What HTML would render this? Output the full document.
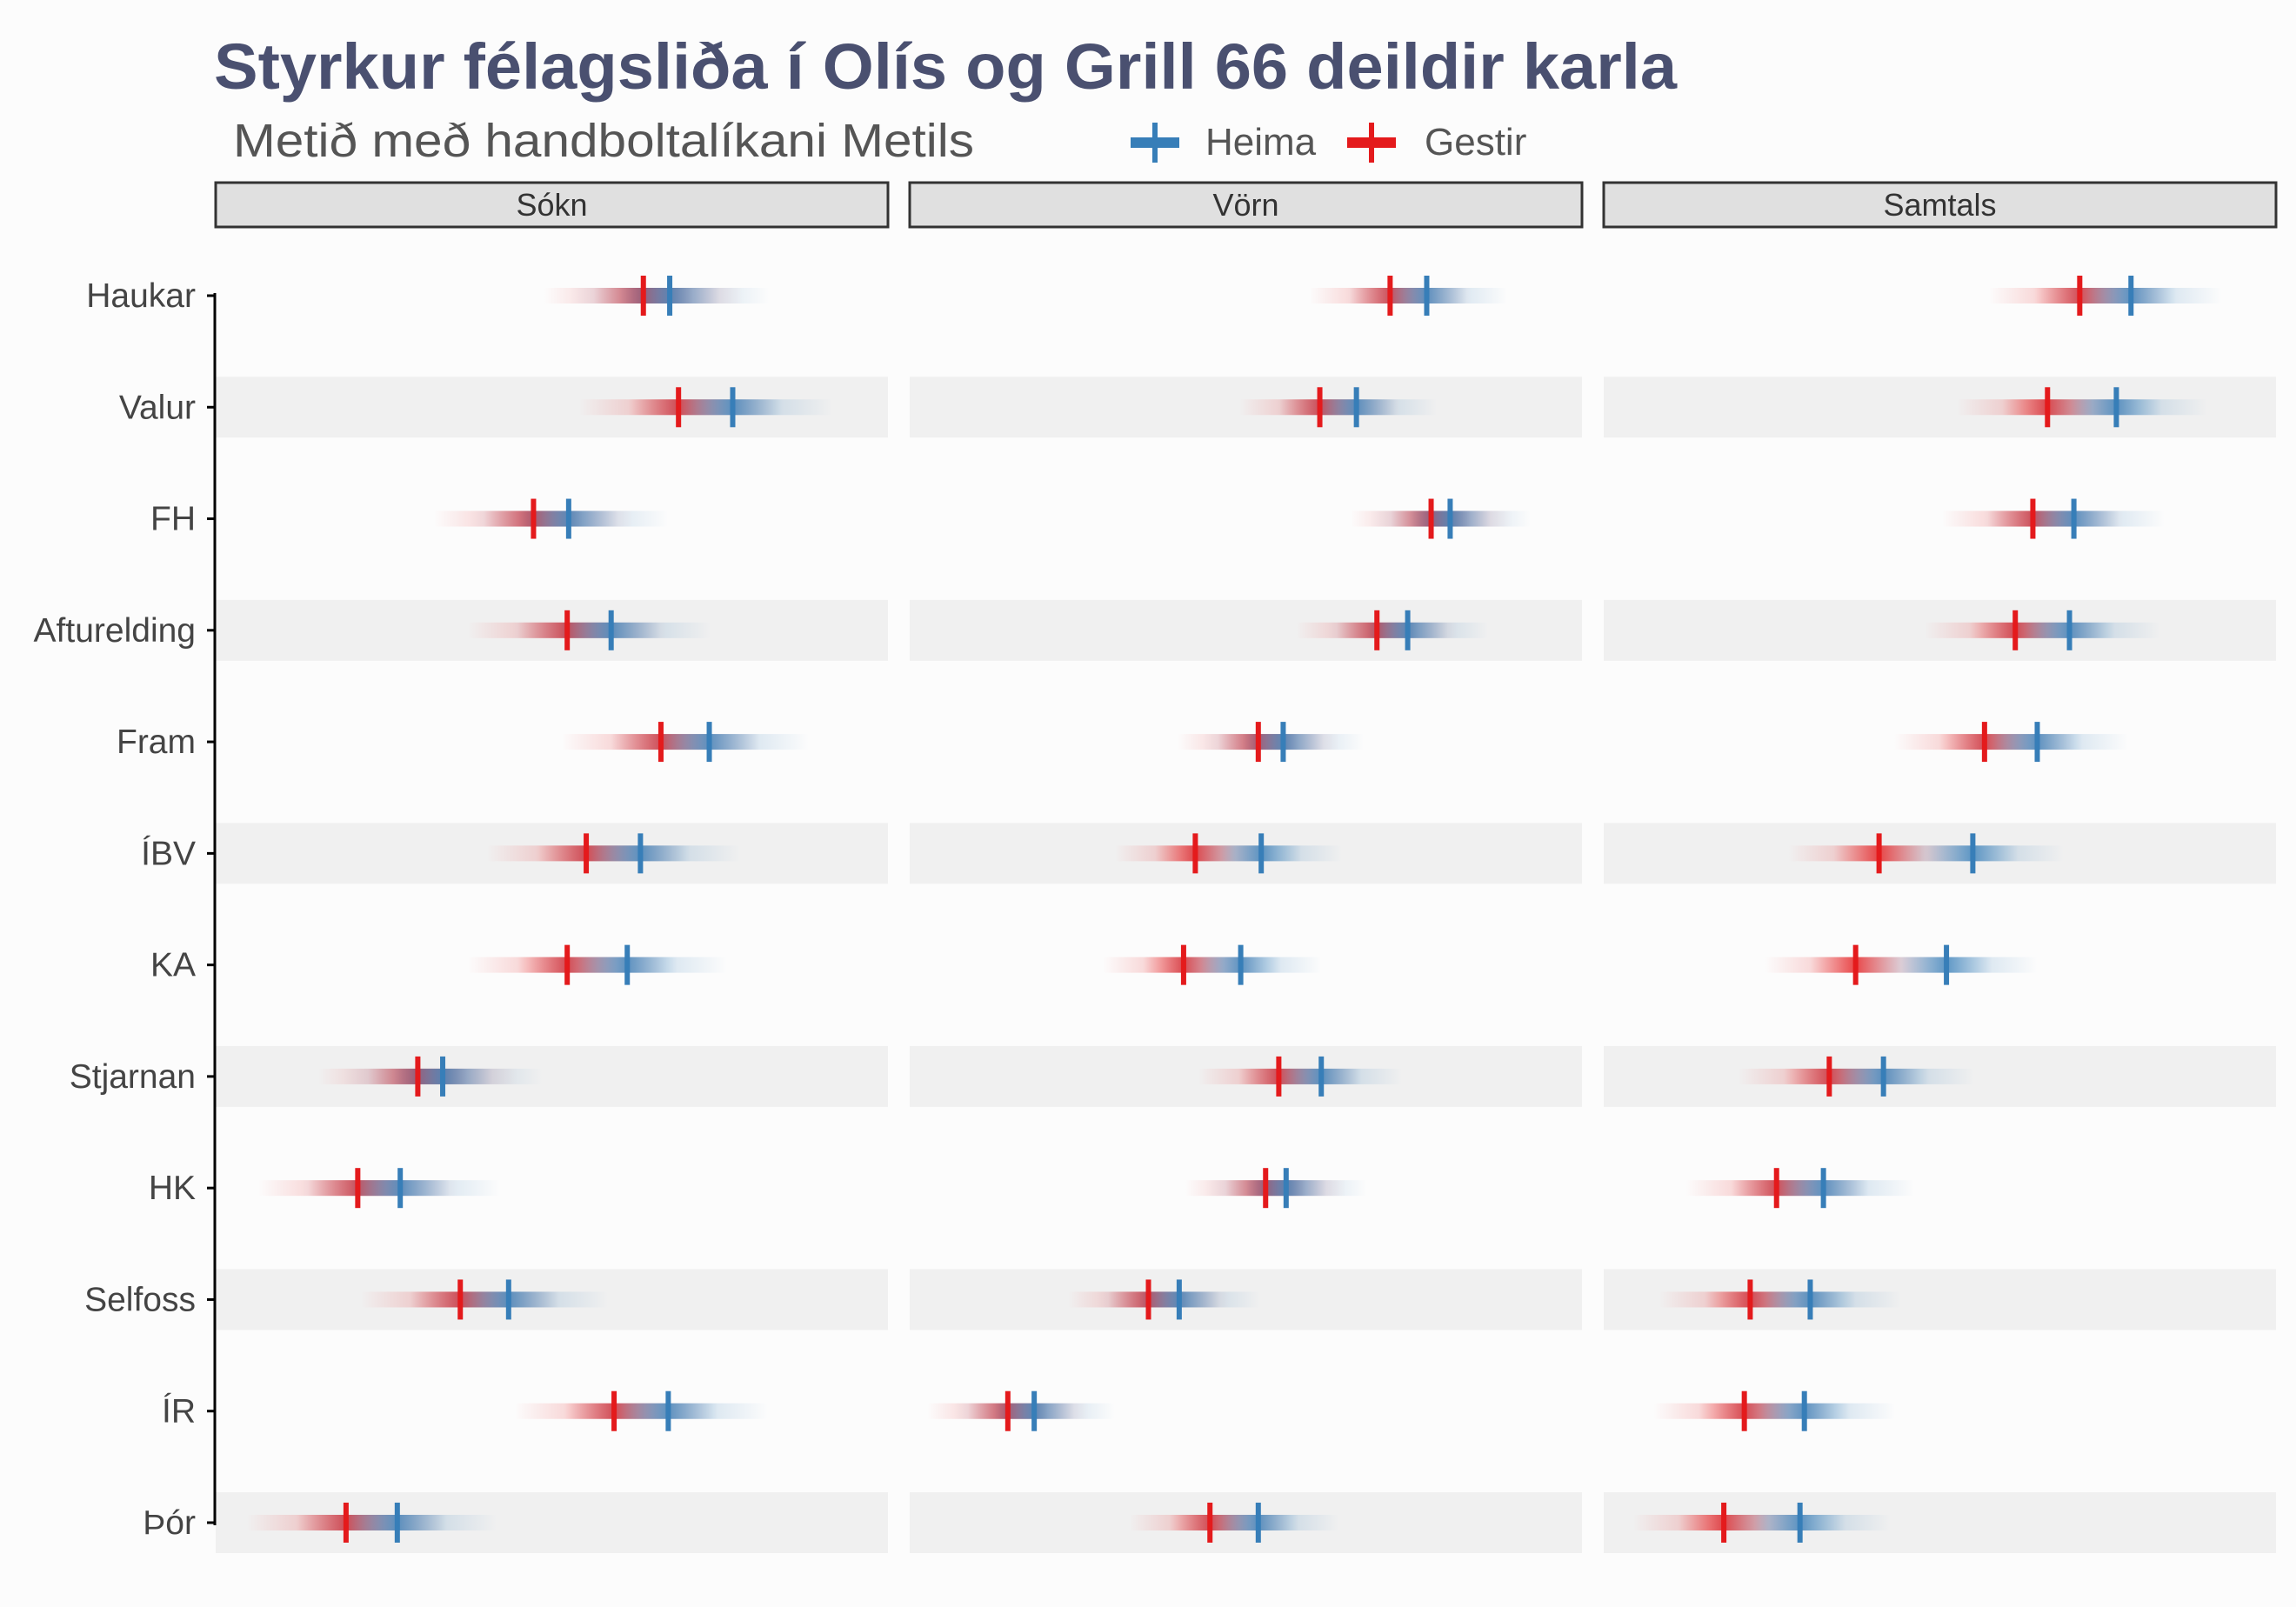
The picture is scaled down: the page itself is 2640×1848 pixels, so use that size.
<!DOCTYPE html>
<html><head><meta charset="utf-8"><style>
html,body{margin:0;padding:0;background:#fcfcfc;}
svg{display:block;font-family:"Liberation Sans",sans-serif;}
</style></head><body>
<svg id="chart" width="2640" height="1848" viewBox="0 0 2640 1848" xmlns="http://www.w3.org/2000/svg">
<rect width="2640" height="1848" fill="#fcfcfc"/>
<text x="246" y="102" font-size="74" font-weight="bold" fill="#4a5070" textLength="1682" lengthAdjust="spacingAndGlyphs">Styrkur félagsliða í Olís og Grill 66 deildir karla</text>
<text x="268" y="180" font-size="54" fill="#555" textLength="852" lengthAdjust="spacingAndGlyphs">Metið með handboltalíkani Metils</text>
<g>
<g><rect x="1300" y="158" width="56" height="12" fill="#377EB8"/><rect x="1325" y="141" width="6" height="46" fill="#377EB8"/><text x="1386" y="178" font-size="44" fill="#555">Heima</text></g>
<g><rect x="1549" y="158" width="56" height="12" fill="#E41A1C"/><rect x="1574" y="141" width="6" height="46" fill="#E41A1C"/><text x="1638" y="178" font-size="44" fill="#555">Gestir</text></g>
</g>
<g id="plot"></g>
</svg>
<script>
const teams = ["Haukar","Valur","FH","Afturelding","Fram","ÍBV","KA","Stjarnan","HK","Selfoss","ÍR","Þór"];
const panels = ["Sókn","Vörn","Samtals"];
const soknGestir = [292,316,217,240,304,253,240,138,97,167,272,89];
const soknHeima  = [310,353,241,270,337,290,281,155,126,200,309,124];
const vornGestir = [328,280,356,319,238,195,187,252,243,163,67,205];
const vornHeima  = [353,305,369,340,255,240,226,281,257,184,85,238];
const samtGestir = [325,303,293,281,260,188,172,154,118,100,96,82];
const samtHeima  = [360,350,321,318,296,252,234,191,150,141,137,134];
const spread = [68,55,62];
const domain = [0,459];

const NS="http://www.w3.org/2000/svg";
const svg=document.getElementById('chart');
const plot=document.getElementById('plot');
function mk(tag,attrs,parent){const e=document.createElementNS(NS,tag);for(const k in attrs)e.setAttribute(k,attrs[k]);(parent||plot).appendChild(e);return e;}
const panelX=[248,1046,1844], panelW=773;
const rowY0=340, rowStep=(1751-340)/11;
function yOf(i){return rowY0+i*rowStep;}
function xScale(p,v){return panelX[p]+(v-domain[0])/(domain[1]-domain[0])*panelW;}
const defs=mk('defs',{},svg);
function grad(id,color){
  const g=mk('linearGradient',{id:id,x1:'0',x2:'1',y1:'0',y2:'0'},defs);
  [[0,0],[0.25,0.15],[0.5,0.8],[0.75,0.15],[1,0]].forEach(s=>mk('stop',{offset:s[0],'stop-color':color,'stop-opacity':s[1]},g));
}
grad('gR','#E41A1C');grad('gB','#377EB8');
const data=[[soknGestir,soknHeima],[vornGestir,vornHeima],[samtGestir,samtHeima]];
for(let p=0;p<3;p++){
  const s=mk('rect',{x:panelX[p],y:210,width:panelW,height:51,fill:'#e0e0e0',stroke:'#333','stroke-width':3});
  
  
  const t=mk('text',{x:panelX[p]+panelW/2,y:248,'font-size':36,fill:'#333','text-anchor':'middle'});
  t.textContent=panels[p];
  
  
  for(let i=0;i<teams.length;i++){
    if(i%2===1){const b=mk('rect',{x:panelX[p],y:yOf(i)-35,width:panelW,height:70,fill:'#f0f0f0'});
      
      }
  }
}
for(let p=0;p<3;p++){
  const sp=spread[p]/(domain[1]-domain[0])*panelW;
  for(let i=0;i<teams.length;i++){
    const y=yOf(i);
    const xr=xScale(p,data[p][0][i]), xb=xScale(p,data[p][1][i]);
    const r=mk('rect',{x:xr-sp,y:y-9,width:2*sp,height:18,fill:'url(#gR)'});
    
    
    const b=mk('rect',{x:xb-sp,y:y-9,width:2*sp,height:18,fill:'url(#gB)'});
    
    
    const tr=mk('rect',{x:xr-3,y:y-23,width:6,height:46,fill:'#E41A1C'});
    
    
    const tb=mk('rect',{x:xb-3,y:y-23,width:6,height:46,fill:'#377EB8'});
    
    
  }
}
const ax=mk('line',{x1:247,x2:247,y1:yOf(0)-3,y2:yOf(11)+3,stroke:'#000','stroke-width':3});


for(let i=0;i<teams.length;i++){
  const tk=mk('line',{x1:238,x2:247,y1:yOf(i),y2:yOf(i),stroke:'#000','stroke-width':3});
  
  
  const l=mk('text',{x:225,y:yOf(i)+13,'font-size':39,fill:'#444','text-anchor':'end'});
  l.textContent=teams[i];
  
  
}
</script>
</body></html>
